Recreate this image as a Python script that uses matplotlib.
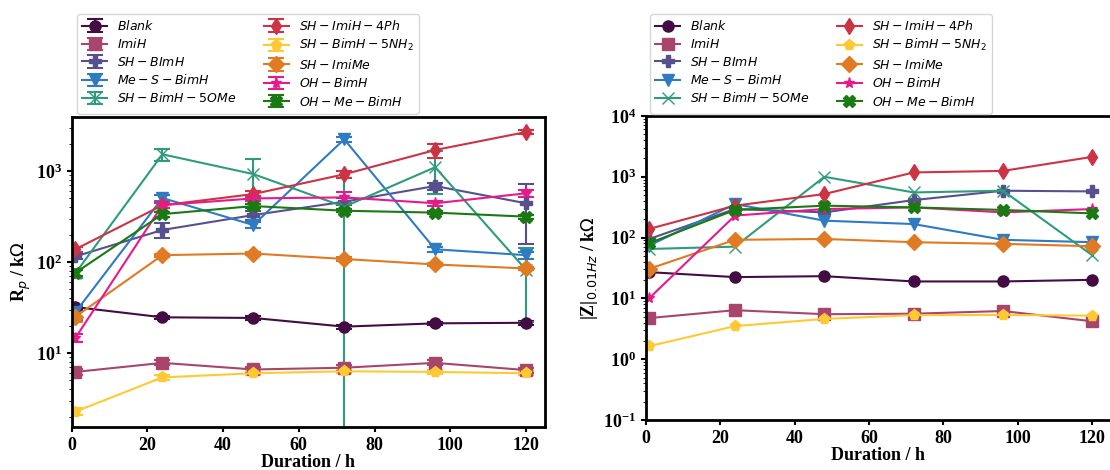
import matplotlib
matplotlib.use("Agg")
import matplotlib.pyplot as plt
import numpy as np

plt.rcParams["font.family"] = ["Liberation Serif", "DejaVu Sans"]
plt.rcParams["mathtext.fontset"] = "dejavusans"

# Immersion time (h)
hours = [1, 24, 48, 72, 96, 120]

labels = [
    r"$Blank$", r"$ImiH$", r"$SH-BImH$", r"$Me-S-BimH$", r"$SH-BimH-5OMe$",
    r"$SH-ImiH-4Ph$", r"$SH-BimH-5NH_2$", r"$SH-ImiMe$", r"$OH-BimH$", r"$OH-Me-BimH$",
]
colors = ["#430C42", "#A8456C", "#56508E", "#2E7BC4", "#2E9B7C",
          "#CC3344", "#FFC933", "#E07A23", "#E8198B", "#1A7A12"]
markers = ["o", "s", "P", "v", "x", "d", "p", "D", "*", "X"]

# Polarization resistance Rp (kOhm) and its standard deviation
rp = [
    [32, 24.7, 24.3, 19.5, 21.2, 21.5],
    [6.2, 7.8, 6.6, 6.9, 7.8, 6.5],
    [115, 225, 328, 460, 684, 442],
    [28, 505, 255, 2230, 138, 119],
    [75, 1525, 925, 405, 1100, 82],
    [138, 420, 558, 920, 1700, 2680],
    [2.27, 5.4, 6.0, 6.3, 6.2, 6.0],
    [25, 119, 124, 108, 94, 85],
    [14.6, 422, 500, 513, 442, 569],
    [76, 336, 412, 366, 349, 315],
]
rp_err = [
    [2, 1, 1, 1, 1, 1],
    [0.4, 0.5, 0.4, 0.5, 0.5, 0.4],
    [8, 40, 40, 40, 60, 285],
    [5, 40, 20, 150, 10, 10],
    [8, 230, 440, 435, 545, 60],
    [10, 30, 50, 80, 300, 150],
    [0.2, 0.3, 0.3, 0.3, 0.3, 0.3],
    [3, 5, 5, 5, 4, 4],
    [1.5, 30, 30, 70, 30, 50],
    [6, 20, 20, 15, 15, 15],
]

# Low-frequency impedance modulus |Z| at 0.01 Hz (kOhm)
z001 = [
    [27, 22.4, 23.2, 19, 19, 20.2],
    [4.75, 6.4, 5.5, 5.6, 6.2, 4.2],
    [95, 295, 260, 414, 590, 575],
    [74, 357, 190, 167, 92, 84],
    [65, 71, 1000, 553, 590, 51],
    [139, 335, 520, 1180, 1250, 2130],
    [1.64, 3.5, 4.6, 5.3, 5.35, 5.2],
    [30.7, 92, 95, 84, 79, 72],
    [10.1, 230, 295, 314, 260, 295],
    [81, 285, 335, 314, 285, 250],
]

fig = plt.figure(figsize=(11.1, 4.7), dpi=100)
ax1 = fig.add_axes([71.5 / 1110, 43 / 470, (545 - 71.5) / 1110, (427 - 117) / 470])
ax2 = fig.add_axes([645.6 / 1110, 50 / 470, (1111 - 645.6) / 1110, (420 - 116) / 470])

for i in range(len(labels)):
    ax1.errorbar(hours, rp[i], yerr=rp_err[i], color=colors[i], marker=markers[i],
                 markersize=8, lw=1.5, elinewidth=1.5, capsize=6, capthick=1.5,
                 label=labels[i])
    ax2.plot(hours, z001[i], color=colors[i], marker=markers[i], markersize=8,
             lw=1.5, label=labels[i])

ax1.set_yscale("log")
ax1.set_ylim(1.54, 3920)
ax1.set_xlim(0, 125)
ax1.set_ylabel(r"R$_p$ / k$\Omega$", fontsize=13, fontweight="bold", labelpad=2)

ax2.set_yscale("log")
ax2.set_ylim(0.1, 1e4)
ax2.set_xlim(0, 125)
ax2.set_ylabel(r"|Z|$_{0.01Hz}$ / k$\Omega$", fontsize=13, fontweight="bold", labelpad=2)

for ax in (ax1, ax2):
    ax.set_xlabel("Duration / h", fontsize=13, fontweight="bold", labelpad=0)
    ax.tick_params(labelsize=13, width=1.5)
    for sp in ax.spines.values():
        sp.set_linewidth(2)
    for t in ax.get_xticklabels() + ax.get_yticklabels():
        t.set_fontweight("bold")

ax1.legend(ncol=2, fontsize=9, loc="upper left", bbox_to_anchor=(77 / 1110, 1 - 14 / 470),
           bbox_transform=fig.transFigure, columnspacing=2.2, labelspacing=0.35,
           borderaxespad=0)
ax2.legend(ncol=2, fontsize=9, loc="upper left", bbox_to_anchor=(650 / 1110, 1 - 14 / 470),
           bbox_transform=fig.transFigure, columnspacing=2.2, labelspacing=0.35,
           borderaxespad=0)

fig.savefig("out.png", dpi=100)
